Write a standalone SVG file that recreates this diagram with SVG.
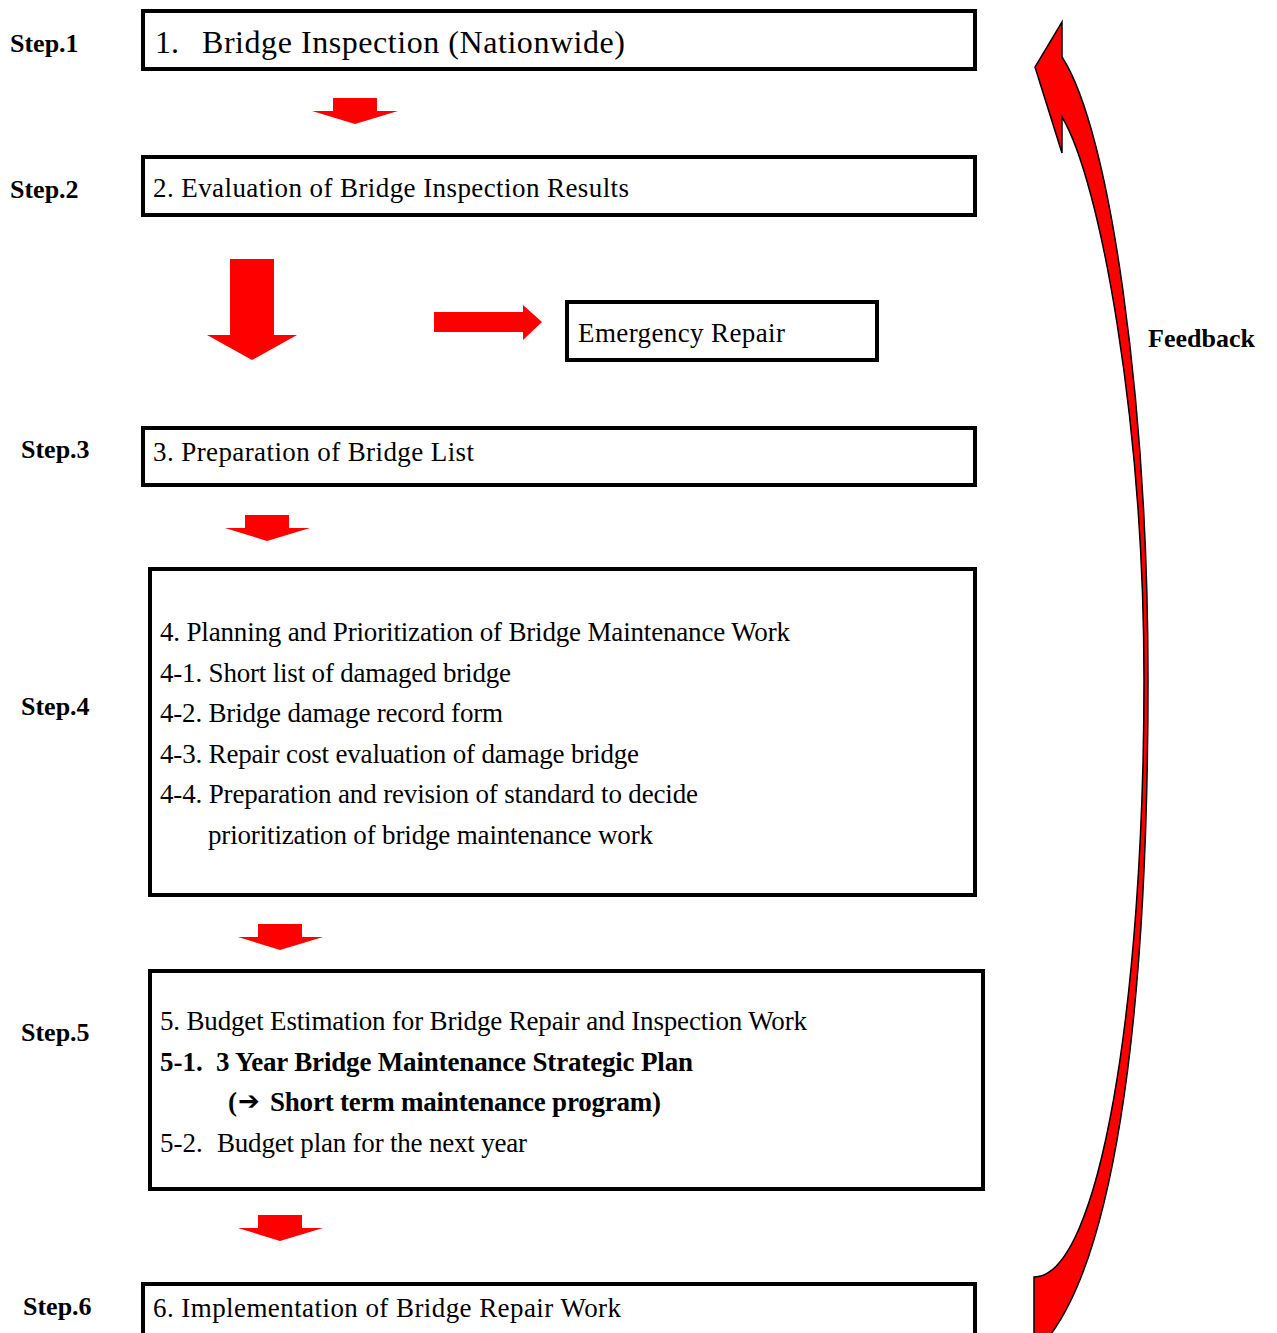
<svg xmlns="http://www.w3.org/2000/svg" width="1277" height="1333" viewBox="0 0 1277 1333">
  <style>
    .box { fill: #ffffff; stroke: #000000; stroke-width: 4; }
    .txt { font-family: "Liberation Serif", "Times New Roman", serif; font-size: 27px; fill: #000000; }
    .bold { font-weight: bold; }
    .step { font-family: "Liberation Serif", "Times New Roman", serif; font-size: 26px; font-weight: bold; fill: #000000; }
    .flow { fill: #ff0000; stroke: none; }
    .loop { fill: #ff0000; stroke: #000000; stroke-width: 1.5; stroke-linejoin: miter; }
  </style>
  <rect width="1277" height="1333" fill="#ffffff"/>

  <!-- step labels -->
  <g id="step-labels">
    <text class="step" x="10" y="52">Step.1</text>
    <text class="step" x="10" y="198">Step.2</text>
    <text class="step" x="21" y="458">Step.3</text>
    <text class="step" x="21" y="715">Step.4</text>
    <text class="step" x="21" y="1041">Step.5</text>
    <text class="step" x="23" y="1315">Step.6</text>
  </g>

  <g id="node-1">
    <rect class="box" x="143" y="11" width="832" height="58"/>
    <text class="txt" x="155" y="53" style="font-size:32px">1.</text>
    <text class="txt" x="202" y="53" style="font-size:32px" textLength="423">Bridge Inspection (Nationwide)</text>
  </g>
  <g id="node-2">
    <rect class="box" x="143" y="157" width="832" height="58"/>
    <text class="txt" x="153" y="197" textLength="476">2. Evaluation of Bridge Inspection Results</text>
  </g>
  <g id="node-emergency">
    <rect class="box" x="567" y="302" width="310" height="58"/>
    <text class="txt" x="578" y="342" textLength="207">Emergency Repair</text>
  </g>
  <g id="node-3">
    <rect class="box" x="143" y="428" width="832" height="57"/>
    <text class="txt" x="153" y="461" textLength="321">3. Preparation of Bridge List</text>
  </g>
  <g id="node-4">
    <rect class="box" x="150" y="569" width="825" height="326"/>
    <text class="txt" x="160" y="641" textLength="630">4. Planning and Prioritization of Bridge Maintenance Work</text>
    <text class="txt" x="160" y="682" textLength="351">4-1. Short list of damaged bridge</text>
    <text class="txt" x="160" y="722" textLength="343">4-2. Bridge damage record form</text>
    <text class="txt" x="160" y="763" textLength="479">4-3. Repair cost evaluation of damage bridge</text>
    <text class="txt" x="160" y="803" textLength="538">4-4. Preparation and revision of standard to decide</text>
    <text class="txt" x="208" y="844" textLength="445">prioritization of bridge maintenance work</text>
  </g>
  <g id="node-5">
    <rect class="box" x="150" y="971" width="833" height="218"/>
    <text class="txt" x="160" y="1030" textLength="647">5. Budget Estimation for Bridge Repair and Inspection Work</text>
    <text class="txt bold" x="160" y="1071">5-1.</text>
    <text class="txt bold" x="216" y="1071" textLength="477">3 Year Bridge Maintenance Strategic Plan</text>
    <text class="txt bold" x="228" y="1111">(</text>
    <text x="238" y="1110" style="font-family:'DejaVu Sans', sans-serif; font-size:26px; font-weight:bold; fill:#000000">➔</text>
    <text class="txt bold" x="270" y="1111" textLength="391">Short term maintenance program)</text>
    <text class="txt" x="160" y="1152">5-2.</text>
    <text class="txt" x="217" y="1152" textLength="310">Budget plan for the next year</text>
  </g>
  <g id="node-6">
    <rect class="box" x="143" y="1284" width="832" height="62"/>
    <text class="txt" x="153" y="1317" textLength="468">6. Implementation of Bridge Repair Work</text>
  </g>

  <!-- flow arrows and the feedback loop -->
  <g id="connectors">
    <polygon class="flow" points="333,98 377,98 377,111 398,111 355,124 312,111 333,111"/>
    <polygon class="flow" points="230,259 274,259 274,335 297,335 252,360 207,335 230,335"/>
    <polygon class="flow" points="434,312 523,312 523,305 542,322 523,340 523,332 434,332"/>
    <polygon class="flow" points="245,515 289,515 289,528 310,528 267,541 225,528 245,528"/>
    <polygon class="flow" points="258,924 302,924 302,937 323,937 280,950 238,937 258,937"/>
    <polygon class="flow" points="258,1215 302,1215 302,1228 323,1228 280,1241 238,1228 258,1228"/>
    <path class="loop" d="M 1062 22 L 1062 57 C 1110 130 1148 400 1148 680 C 1148 1040 1110 1270 1042 1345 L 1034 1345 L 1034 1277 C 1100 1277 1144 1000 1144 680 C 1144 420 1100 180 1062 117 L 1062 153 L 1035 67 Z"/>
    <text class="step" x="1148" y="347">Feedback</text>
  </g>
</svg>
